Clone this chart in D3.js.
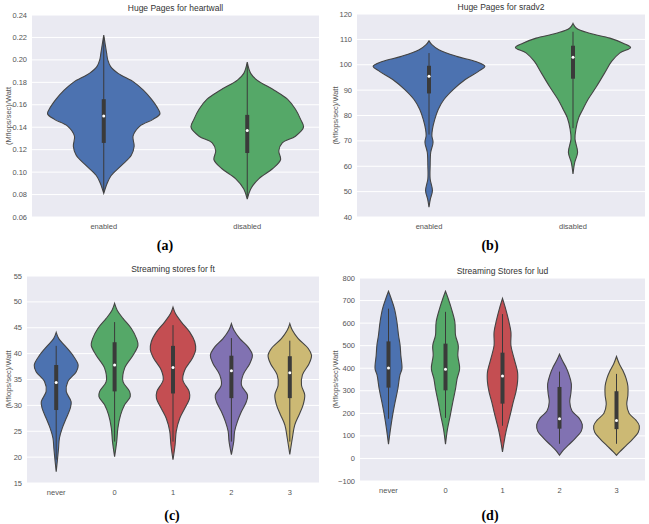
<!DOCTYPE html>
<html>
<head>
<meta charset="utf-8">
<script src="https://cdn.jsdelivr.net/npm/d3@7"></script>
<style>
  body { margin: 0; background: #fff; }
  svg { display: block; }
</style>
</head>
<body>
<div id="chart"></div>
<script>
// ---- data ----
// profiles are [value, relative density] from top tip to bottom tip
// boxes are [whiskerLow, q1, median, q3, whiskerHigh]

// (a) Huge Pages for heartwall
var heartwallCats = ["enabled", "disabled"];
var heartwallTicks = [0.06, 0.08, 0.10, 0.12, 0.14, 0.16, 0.18, 0.20, 0.22, 0.24];
var heartwallEnabled = [[0.222,0],[0.206,0.05],[0.200,0.07],[0.194,0.12],[0.188,0.25],[0.180,0.53],[0.173,0.69],[0.165,0.83],[0.156,0.95],[0.152,0.98],[0.147,0.86],[0.141,0.63],[0.132,0.51],[0.123,0.53],[0.115,0.48],[0.106,0.31],[0.097,0.13],[0.090,0.06],[0.081,0]];
var heartwallDisabled = [[0.198,0],[0.188,0.06],[0.182,0.17],[0.173,0.47],[0.165,0.70],[0.156,0.84],[0.147,0.93],[0.140,0.98],[0.132,0.84],[0.126,0.61],[0.119,0.55],[0.111,0.58],[0.103,0.44],[0.094,0.20],[0.085,0.06],[0.076,0]];
var heartwallBoxes = [[0.082, 0.126, 0.150, 0.165, 0.220], [0.078, 0.117, 0.137, 0.151, 0.196]];

// (b) Huge Pages for sradv2
var sradCats = ["enabled", "disabled"];
var sradTicks = [40, 50, 60, 70, 80, 90, 100, 110, 120];
var sradEnabled = [[109.4,0],[107.9,0.05],[105.9,0.17],[103.3,0.48],[101.3,0.81],[99.4,0.97],[97.4,0.86],[94.2,0.63],[90.2,0.42],[86.3,0.26],[82.4,0.16],[78.5,0.10],[74.6,0.06],[72.0,0.05],[69.4,0.07],[65.5,0.03],[60.2,0.02],[55.0,0.02],[50.4,0.06],[47.2,0.025],[43.9,0]];
var sradDisabled = [[116.3,0],[114.4,0.06],[112.4,0.29],[110.5,0.64],[108.5,0.87],[106.8,1.0],[104.6,0.81],[101.3,0.67],[96.8,0.55],[91.5,0.41],[86.3,0.26],[82.4,0.17],[79.2,0.10],[74.6,0.05],[70.7,0.035],[65.5,0.08],[61.5,0.03],[57.0,0]];
var sradBoxes = [[72.5, 88.7, 95.5, 99.6, 104.6], [75, 94.5, 103, 107.5, 113]];

// (c) Streaming stores for ft
var ftCats = ["never", "0", "1", "2", "3"];
var ftTicks = [15, 20, 25, 30, 35, 40, 45, 50, 55];
var ftNever = [[44.1,0],[42.9,0.11],[41.6,0.36],[39.7,0.71],[37.8,0.94],[36.5,0.86],[34.6,0.50],[32.7,0.43],[30.7,0.64],[29.4,0.60],[27.5,0.43],[25.6,0.26],[23.7,0.14],[21.7,0.10],[19.8,0.06],[17.2,0]];
var ftZero = [[49.7,0],[48.4,0.11],[46.8,0.36],[44.9,0.71],[42.9,0.94],[41.6,1.0],[39.7,0.79],[37.2,0.43],[34.6,0.36],[32.7,0.64],[31.7,0.67],[30.1,0.43],[28.2,0.26],[25.6,0.14],[23.0,0.09],[20.1,0]];
var ftOne = [[49.0,0],[47.7,0.11],[46.1,0.36],[44.2,0.71],[42.3,0.93],[40.7,0.97],[39.1,0.83],[36.8,0.50],[34.9,0.42],[32.7,0.69],[31.4,0.71],[29.4,0.50],[27.5,0.29],[25.0,0.14],[22.4,0.09],[19.5,0]];
var ftTwo = [[45.8,0],[44.5,0.11],[42.9,0.36],[41.3,0.71],[39.7,0.90],[38.1,0.79],[35.9,0.50],[33.9,0.43],[32.0,0.69],[30.7,0.64],[28.8,0.43],[26.9,0.26],[25.0,0.14],[23.0,0.10],[20.5,0]];
var ftThree = [[45.8,0],[44.5,0.11],[42.9,0.36],[41.0,0.79],[39.7,0.93],[38.1,0.83],[35.9,0.54],[33.9,0.50],[32.0,0.64],[30.1,0.57],[28.2,0.40],[26.2,0.21],[23.7,0.11],[20.5,0]];
var ftBoxes = [[19.5, 29.1, 34.4, 37.8, 41.5], [23, 32.7, 37.8, 42.2, 46.1], [23, 32.3, 37.3, 41.5, 45.5], [23, 31.4, 36.7, 39.6, 43], [23, 31.4, 36.3, 39.5, 42.5]];

// (d) Streaming Stores for lud
var ludCats = ["never", "0", "1", "2", "3"];
var ludTicks = [-100, 0, 100, 200, 300, 400, 500, 600, 700, 800];
var ludNever = [[741,0],[708,0.12],[664,0.26],[605,0.37],[546,0.44],[501,0.51],[457,0.54],[398,0.59],[369,0.50],[309,0.41],[250,0.29],[191,0.18],[132,0.09],[63,0]];
var ludZero = [[741,0],[708,0.12],[664,0.26],[605,0.41],[546,0.44],[501,0.56],[457,0.54],[398,0.62],[354,0.51],[309,0.44],[250,0.32],[191,0.21],[132,0.09],[63,0]];
var ludOne = [[710,0],[670,0.12],[615,0.26],[560,0.37],[501,0.37],[442,0.51],[383,0.66],[339,0.66],[295,0.59],[250,0.47],[206,0.37],[162,0.26],[117,0.15],[73,0.07],[29,0]];
var ludTwo = [[462,0],[435,0.12],[405,0.28],[370,0.42],[330,0.52],[290,0.50],[250,0.45],[210,0.55],[180,0.85],[150,1.0],[120,0.95],[90,0.70],[60,0.40],[35,0.15],[14,0]];
var ludThree = [[452,0],[420,0.12],[390,0.28],[355,0.42],[320,0.50],[280,0.50],[240,0.45],[200,0.55],[170,0.85],[145,1.0],[115,0.95],[85,0.70],[55,0.40],[30,0.15],[14,0]];
var ludBoxes = [[176, 314, 401, 519, 664], [180, 302, 395, 509, 650], [145, 243, 365, 469, 640], [65, 132, 176, 317, 385], [65, 130, 168, 298, 375]];

var palette = ["#4C72B0", "#55A868", "#C44E52", "#8172B2", "#CCB974"];

// ---- layout ----
var panels = [
  {title: "Huge Pages for heartwall", cats: heartwallCats, ticks: heartwallTicks, fmt: d3.format(".2f"),
   profiles: [heartwallEnabled, heartwallDisabled], boxes: heartwallBoxes,
   left: 32, right: 319, top: 15, bottom: 217, ylabX: 8, tag: "(a)", tagX: 165, tagY: 250},
  {title: "Huge Pages for sradv2", cats: sradCats, ticks: sradTicks, fmt: d3.format("d"),
   profiles: [sradEnabled, sradDisabled], boxes: sradBoxes,
   left: 357, right: 645, top: 14, bottom: 217, ylabX: 335, tag: "(b)", tagX: 490, tagY: 250},
  {title: "Streaming stores for ft", cats: ftCats, ticks: ftTicks, fmt: d3.format("d"),
   profiles: [ftNever, ftZero, ftOne, ftTwo, ftThree], boxes: ftBoxes,
   left: 27, right: 319, top: 276, bottom: 483, ylabX: 8, tag: "(c)", tagX: 172, tagY: 520},
  {title: "Streaming Stores for lud", cats: ludCats, ticks: ludTicks, fmt: d3.format("d"),
   profiles: [ludNever, ludZero, ludOne, ludTwo, ludThree], boxes: ludBoxes,
   left: 360, right: 645, top: 278, bottom: 481, ylabX: 335, tag: "(d)", tagX: 490, tagY: 520}
];

var svg = d3.select("#chart").append("svg")
    .attr("width", 649)
    .attr("height", 524);

function drawPanel(p) {
    var g = svg.append("g");
    var x = d3.scaleBand().domain(p.cats).range([p.left, p.right]);
    var y = d3.scaleLinear()
        .domain([p.ticks[0], p.ticks[p.ticks.length - 1]])
        .range([p.bottom, p.top]);
    var w = d3.scaleLinear().domain([0, 1]).range([0, x.bandwidth() * 0.4]);

    g.append("rect")
        .attr("x", p.left).attr("y", p.top)
        .attr("width", p.right - p.left).attr("height", p.bottom - p.top)
        .attr("fill", "#EAEAF2");

    g.selectAll(".grid").data(p.ticks).enter().append("line")
        .attr("x1", p.left).attr("x2", p.right)
        .attr("y1", function(d) { return y(d); })
        .attr("y2", function(d) { return y(d); })
        .attr("stroke", "#fff").attr("stroke-width", 1);

    g.selectAll(".ytick").data(p.ticks).enter().append("text")
        .attr("x", p.left - 5)
        .attr("y", function(d) { return y(d) + 2.5; })
        .attr("text-anchor", "end")
        .attr("font-family", "Liberation Sans, Arial, sans-serif")
        .attr("font-size", 7.5).attr("fill", "#555")
        .text(function(d) { return p.fmt(d).replace("-", "\u2212"); });

    g.selectAll(".xtick").data(p.cats).enter().append("text")
        .attr("x", function(d) { return x(d) + x.bandwidth() / 2; })
        .attr("y", p.bottom + 12)
        .attr("text-anchor", "middle")
        .attr("font-family", "Liberation Sans, Arial, sans-serif")
        .attr("font-size", 7.5).attr("fill", "#555")
        .text(function(d) { return d; });

    g.append("text")
        .attr("x", (p.left + p.right) / 2).attr("y", p.top - 4)
        .attr("text-anchor", "middle")
        .attr("font-family", "Liberation Sans, Arial, sans-serif")
        .attr("font-size", 8.5).attr("fill", "#333")
        .text(p.title);

    g.append("text")
        .attr("transform", "translate(" + p.ylabX + "," + ((p.top + p.bottom) / 2) + ") rotate(-90)")
        .attr("text-anchor", "middle")
        .attr("dy", "0.35em")
        .attr("font-family", "Liberation Sans, Arial, sans-serif")
        .attr("font-size", 7.5).attr("fill", "#555")
        .text("(Mflops/sec)/Watt");

    p.cats.forEach(function(cat, i) {
        var cx = x(cat) + x.bandwidth() / 2;
        var area = d3.area()
            .y(function(d) { return y(d[0]); })
            .x0(function(d) { return cx - w(d[1]); })
            .x1(function(d) { return cx + w(d[1]); })
            .curve(d3.curveCatmullRom.alpha(0.5));
        g.append("path")
            .datum(p.profiles[i])
            .attr("d", area)
            .attr("fill", palette[i])
            .attr("stroke", "#444")
            .attr("stroke-width", 1.1);

        var b = p.boxes[i];
        g.append("line")
            .attr("x1", cx).attr("x2", cx)
            .attr("y1", y(b[0])).attr("y2", y(b[4]))
            .attr("stroke", "#3a3a3a").attr("stroke-width", 1);
        g.append("line")
            .attr("x1", cx).attr("x2", cx)
            .attr("y1", y(b[1])).attr("y2", y(b[3]))
            .attr("stroke", "#3a3a3a").attr("stroke-width", 4);
        g.append("circle")
            .attr("cx", cx).attr("cy", y(b[2]))
            .attr("r", 1.5).attr("fill", "#fff");
    });

    svg.append("text")
        .attr("x", p.tagX).attr("y", p.tagY)
        .attr("text-anchor", "middle")
        .attr("font-family", "Liberation Serif, Times New Roman, serif")
        .attr("font-weight", "bold")
        .attr("font-size", 14).attr("fill", "#000")
        .text(p.tag);
}

panels.forEach(drawPanel);
</script>
</body>
</html>
